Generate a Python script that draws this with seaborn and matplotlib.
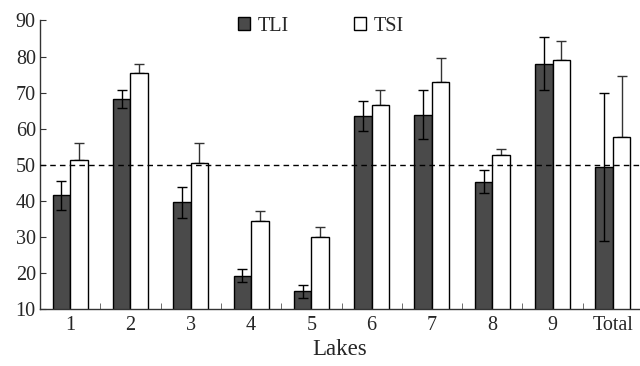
import numpy as np
import pandas as pd
import matplotlib
matplotlib.use("Agg")
import matplotlib.pyplot as plt
import seaborn as sns
from matplotlib.ticker import FixedLocator

lakes = ["1", "2", "3", "4", "5", "6", "7", "8", "9", "Total"]
tli = [41.5, 68.2, 39.6, 19.2, 14.9, 63.5, 63.9, 45.3, 78.0, 49.3]
tli_err = [4.0, 2.4, 4.3, 1.8, 1.8, 4.2, 6.9, 3.2, 7.4, 20.6]
tsi = [51.3, 75.3, 50.4, 34.5, 30.0, 66.5, 72.9, 52.7, 79.0, 57.7]
tsi_err = [4.6, 2.7, 5.5, 2.6, 2.7, 4.1, 6.7, 1.7, 5.4, 16.8]
series = ["TLI", "TSI"]

df = pd.DataFrame({
    "Lake": lakes * 2,
    "Index": [series[0]] * len(lakes) + [series[1]] * len(lakes),
    "Value": tli + tsi,
})

sns.set_style("ticks")
plt.rcParams["font.family"] = ["Liberation Serif", "DejaVu Serif"]

fig = plt.figure(figsize=(6.4, 3.66), dpi=100)
ax = fig.add_axes([0.0625, 0.156, 0.9375, 0.788])

sns.barplot(data=df, x="Lake", y="Value", hue="Index", order=lakes,
            hue_order=series, palette=["#4a4a4a", "#ffffff"],
            errorbar=None, width=0.58, edgecolor="black", linewidth=1.0,
            saturation=1, ax=ax, zorder=2)

# error bars
patches = ax.patches[:2 * len(lakes)]
tli_x = [p.get_x() + p.get_width() / 2 for p in patches[:len(lakes)]]
tsi_x = [p.get_x() + p.get_width() / 2 for p in patches[len(lakes):]]
ax.errorbar(tli_x, tli, yerr=tli_err, fmt="none", ecolor="black",
            elinewidth=1.0, capsize=3.5, capthick=1.0, zorder=3)
ax.errorbar(tsi_x, tsi, yerr=[np.zeros(len(tsi)), tsi_err], fmt="none",
            ecolor="#333333", elinewidth=1.0, capsize=3.5, capthick=1.0, zorder=1)

ax.axhline(50, color="black", linestyle=(0, (4, 3)), linewidth=1.0, zorder=4)

ax.set_ylim(10, 90)
ax.set_xlim(-0.5, 9.45)
ax.set_yticks(range(10, 91, 10))
ax.xaxis.set_minor_locator(FixedLocator([i + 0.5 for i in range(9)]))
ax.tick_params(axis="x", which="major", length=0, labelsize=14.5, pad=5)
ax.tick_params(axis="x", which="minor", direction="in", length=4, color="#555555")
ax.tick_params(axis="y", direction="in", length=4, labelsize=14.5, color="#333333", pad=3)
for s in ["top", "right"]:
    ax.spines[s].set_visible(False)
for s in ["left", "bottom"]:
    ax.spines[s].set_color("#333333")
    ax.spines[s].set_linewidth(1.0)

ax.set_xlabel("Lakes", fontsize=16.5, labelpad=3)
ax.set_ylabel("")

leg = ax.legend(loc="upper center", bbox_to_anchor=(0.468, 1.075), ncol=2,
                frameon=False, fontsize=14.5, handlelength=0.6, handleheight=0.6,
                columnspacing=3.2, handletextpad=0.4)

fig.savefig("out.png", dpi=100)
